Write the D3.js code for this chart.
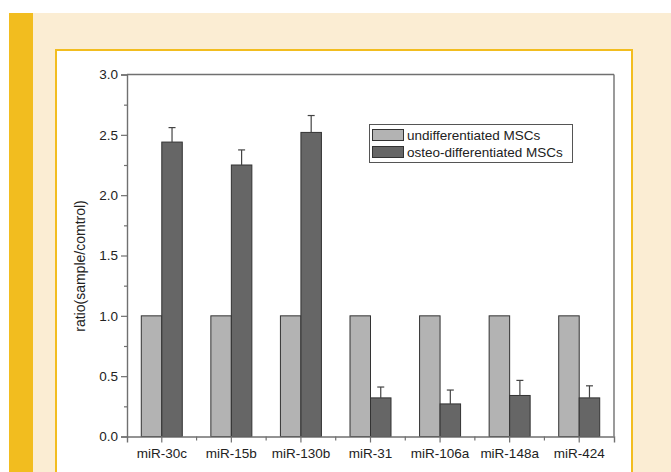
<!DOCTYPE html>
<html>
<head>
<meta charset="utf-8">
<script src="https://cdn.jsdelivr.net/npm/d3@7"></script>
<style>
  html, body { margin: 0; padding: 0; background: #ffffff; }
  svg { display: block; }
  text { font-family: "Liberation Sans", Arial, sans-serif; fill: #222; }
</style>
</head>
<body>
<svg id="chart" width="671" height="472"></svg>
<script>
// miRNA expression ratios (sample / control)
const categories = ["miR-30c", "miR-15b", "miR-130b", "miR-31", "miR-106a", "miR-148a", "miR-424"];
const seriesNames = ["undifferentiated MSCs", "osteo-differentiated MSCs"];
const undifferentiated = [1.0, 1.0, 1.0, 1.0, 1.0, 1.0, 1.0];
const osteoDifferentiated = [2.44, 2.25, 2.52, 0.32, 0.27, 0.34, 0.32];
const osteoError = [0.12, 0.125, 0.14, 0.09, 0.115, 0.125, 0.10];
const yTicks = [0, 0.5, 1.0, 1.5, 2.0, 2.5, 3.0];

const svg = d3.select("#chart");

// page framing: cream panel, yellow side stripe, white boxed figure area
svg.append("rect").attr("x", 33).attr("y", 13).attr("width", 638).attr("height", 459).attr("fill", "#fbedd3");
svg.append("rect").attr("x", 9).attr("y", 13).attr("width", 24).attr("height", 459).attr("fill", "#f2bd1f");
svg.append("rect").attr("x", 56).attr("y", 50).attr("width", 576).attr("height", 430)
  .attr("fill", "#ffffff").attr("stroke", "#f2bd1f").attr("stroke-width", 2);

const plot = { left: 127, right: 614, top: 74.5, bottom: 436.5 };

const x = d3.scaleBand().domain(categories).range([plot.left, plot.right]).padding(0);
const y = d3.scaleLinear().domain([0, 3]).range([plot.bottom, plot.top]);
const pairWidth = 41;
const xs = d3.scaleBand().domain(seriesNames).range([0, pairWidth]).padding(0);
const colors = d3.scaleOrdinal().domain(seriesNames).range(["#b3b3b3", "#666666"]);

const rows = categories.map((c, i) => ({
  cat: c,
  values: [
    { key: seriesNames[0], v: undifferentiated[i] },
    { key: seriesNames[1], v: osteoDifferentiated[i], err: osteoError[i] }
  ]
}));

// bars
const groups = svg.append("g").selectAll("g").data(rows).join("g")
  .attr("transform", d => `translate(${x(d.cat) + x.bandwidth() / 2 - pairWidth / 2},0)`);

groups.selectAll("rect").data(d => d.values).join("rect")
  .attr("x", d => xs(d.key))
  .attr("y", d => y(d.v))
  .attr("width", xs.bandwidth())
  .attr("height", d => y(0) - y(d.v))
  .attr("fill", d => colors(d.key))
  .attr("stroke", "#333")
  .attr("stroke-width", 1);

// upper error bars on the osteo-differentiated series
const errs = groups.selectAll("g.err").data(d => d.values.filter(v => v.err != null)).join("g").attr("class", "err");
errs.append("line")
  .attr("x1", d => xs(d.key) + xs.bandwidth() / 2).attr("x2", d => xs(d.key) + xs.bandwidth() / 2)
  .attr("y1", d => y(d.v)).attr("y2", d => y(d.v + d.err))
  .attr("stroke", "#444").attr("stroke-width", 1.2);
errs.append("line")
  .attr("x1", d => xs(d.key) + xs.bandwidth() / 2 - 3.5).attr("x2", d => xs(d.key) + xs.bandwidth() / 2 + 3.5)
  .attr("y1", d => y(d.v + d.err)).attr("y2", d => y(d.v + d.err))
  .attr("stroke", "#444").attr("stroke-width", 1.2);

// frame lines on top and right
const axisColor = "#707070";
svg.append("line").attr("x1", plot.left).attr("x2", plot.right).attr("y1", plot.top).attr("y2", plot.top)
  .attr("stroke", axisColor).attr("stroke-width", 1.4);
svg.append("line").attr("x1", plot.right).attr("x2", plot.right).attr("y1", plot.top).attr("y2", plot.bottom)
  .attr("stroke", axisColor).attr("stroke-width", 1.4);

// y axis with major and minor ticks
const yMinor = d3.range(0.25, 3, 0.5);
const yAxis = svg.append("g").attr("transform", `translate(${plot.left},0)`)
  .call(d3.axisLeft(y).tickValues(yTicks).tickFormat(d3.format(".1f")).tickSize(6).tickPadding(3));
svg.append("g").attr("transform", `translate(${plot.left},0)`)
  .call(d3.axisLeft(y).tickValues(yMinor).tickFormat("").tickSize(3))
  .select(".domain").remove();

// x axis: long ticks at category centres, short ticks at group boundaries
const xAxis = svg.append("g").attr("transform", `translate(0,${plot.bottom})`)
  .call(d3.axisBottom(x).tickSize(6).tickPadding(6));
const boundaries = categories.slice(1).map(c => x(c));
svg.append("g").selectAll("line").data(boundaries).join("line")
  .attr("x1", d => d).attr("x2", d => d).attr("y1", plot.bottom).attr("y2", plot.bottom + 4)
  .attr("stroke", axisColor).attr("stroke-width", 1.2);

[yAxis, xAxis].forEach(a => {
  a.select(".domain").attr("stroke", axisColor).attr("stroke-width", 1.4);
  a.selectAll("text").style("font-size", "13.5px").attr("fill", "#222");
});
svg.selectAll(".tick line").attr("stroke", axisColor).attr("stroke-width", 1.2);

// y axis title
svg.append("text")
  .attr("transform", `translate(85,266) rotate(-90)`)
  .attr("text-anchor", "middle")
  .style("font-size", "14px")
  .text("ratio(sample/comtrol)");

// legend
const legend = svg.append("g").attr("transform", "translate(369.5,124.5)");
legend.append("rect").attr("width", 203).attr("height", 38).attr("fill", "#fff").attr("stroke", "#555").attr("stroke-width", 1);
seriesNames.forEach((name, i) => {
  legend.append("rect").attr("x", 3).attr("y", 5 + i * 17).attr("width", 31).attr("height", 11)
    .attr("fill", colors(name)).attr("stroke", "#333").attr("stroke-width", 1);
  legend.append("text").attr("x", 37.5).attr("y", 15 + i * 17)
    .style("font-size", "13.5px").text(name);
});
</script>
</body>
</html>
